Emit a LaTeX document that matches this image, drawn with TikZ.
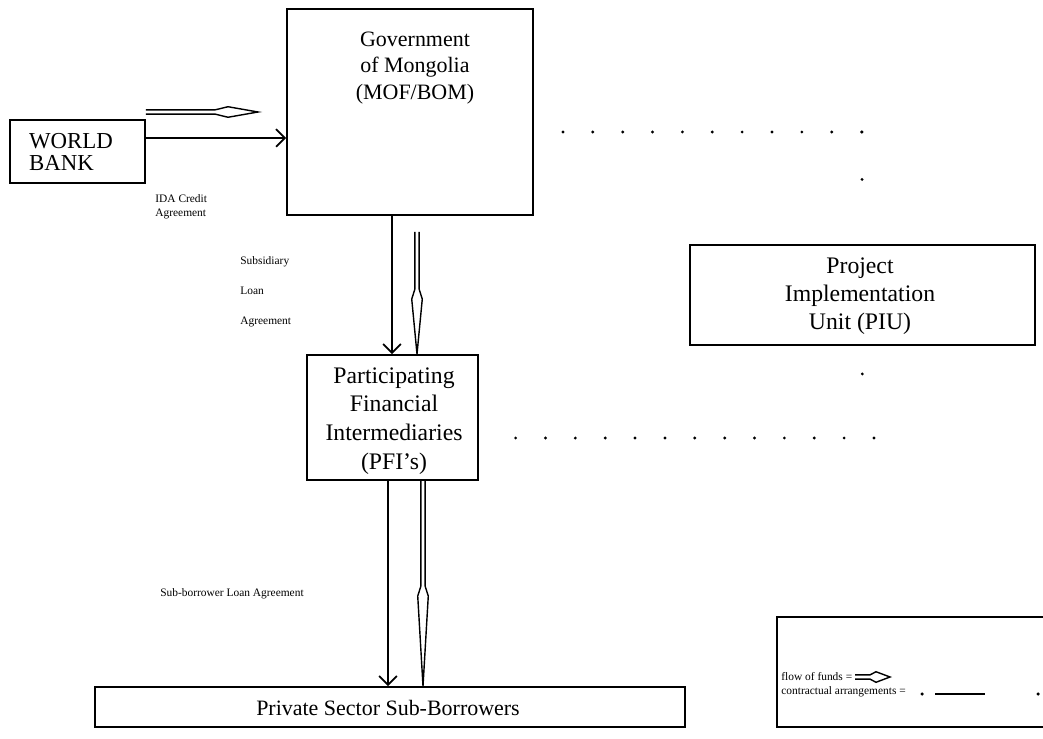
\documentclass[tikz,border=0pt]{standalone}
\usepackage{fontspec}
\setmainfont{Liberation Serif}
\usetikzlibrary{arrows.meta,calc}

\tikzset{
  box/.style={draw, line width=1.1pt, inner sep=0pt},
  boxtext/.style={align=center, font=\fontsize{13.5}{16}\selectfont, inner sep=0pt},
  small/.style={align=left, font=\fontsize{6.5}{8}\selectfont, inner sep=0pt},
  contract/.style={line width=1.1pt, -{Straight Barb[length=5pt,width=10pt,line width=1pt]}},
  fundsline/.style={line width=0.8pt, line join=miter},
  dots/.style={line width=1.8pt, line cap=round, dash pattern=on 0pt off 17pt}
}
% funds arrow: start, end, lens start and widest point (distance from end)
\newcommand{\fundsarrow}[4]{%
  \coordinate (fb) at ($(#2)!#3!(#1)$);
  \coordinate (fw) at ($(#2)!#4!(#1)$);
  \draw[fundsline] ($(#1)!1.2pt!90:(#2)$) -- ($(fb)!1.2pt!90:(#2)$) -- ($(fw)!3pt!90:(#2)$) -- (#2)
    -- ($(fw)!3pt!-90:(#2)$) -- ($(fb)!1.2pt!-90:(#2)$) -- ($(#1)!1.2pt!-90:(#2)$);
}

\begin{document}
\begin{tikzpicture}[x=0.02cm,y=-0.02cm]
  \useasboundingbox (0,0) rectangle (1043,739);

  \node[box, minimum width=2.7cm, minimum height=1.26cm] (wb) at (77.5,151.5) {};
  \node[boxtext, align=left, font=\fontsize{13}{12}\selectfont] (wblbl) at (71,152) {WORLD\\BANK};
  \node[box, minimum width=4.92cm, minimum height=4.12cm] (gov) at (410,112) {};
  \node[boxtext, font=\fontsize{12.5}{15.3}\selectfont] (govlbl) at (415,68) {Government\\of Mongolia\\(MOF/BOM)};
  \node[box, minimum width=3.42cm, minimum height=2.5cm] (pfi) at (392.5,417.5) {};
  \node[boxtext, font=\fontsize{13.5}{16.4}\selectfont] (pfilbl) at (394,421) {Participating\\Financial\\Intermediaries\\(PFI's)};
  \node[box, minimum width=6.9cm, minimum height=2cm] (piu) at (862.5,295) {};
  \node[boxtext] (piulbl) at (860,296) {Project\\Implementation\\Unit (PIU)};
  \node[box, minimum width=11.8cm, minimum height=0.8cm] (psb) at (390,707) {};
  \node[boxtext, font=\fontsize{12.5}{15}\selectfont] (psblbl) at (388,708) {Private Sector Sub-Borrowers};

  \draw[contract] (wb.east |- 0,138) -- (gov.west |- 0,138);
  \coordinate (fundsin) at (258,112);
  \fundsarrow{wb.east |- 0,112}{fundsin}{0.86cm}{0.6cm}
  \node[small] (ida) at (155,207) [anchor=west] {IDA Credit\\Agreement};

  \draw[contract] (392,0 |- gov.south) -- (392,0 |- pfi.north);
  \coordinate (fundsgov) at (417,232);
  \fundsarrow{fundsgov}{417,0 |- pfi.north}{1.3cm}{1.1cm}
  \node[small, font=\fontsize{6.5}{17}\selectfont] (sla) at (240,292) [anchor=west] {Subsidiary\\Loan\\Agreement};

  \draw[contract] (388,0 |- pfi.south) -- (388,0 |- psb.north);
  \fundsarrow{423,0 |- pfi.south}{423,0 |- psb.north}{2cm}{1.8cm}
  \node[small] (sbla) at (160,594) [anchor=west] {Sub-borrower Loan Agreement};

  \coordinate (gd) at (862,132);
  \draw[dots, shorten <=0.58cm] (gov.east |- gd) -- (gd);
  \draw[dots, dash pattern=on 0pt off 27pt, shorten >=1cm] (gd) -- (gd |- piu.north);
  \coordinate (pd) at (862,438);
  \draw[dots, dash pattern=on 0pt off 40pt, shorten <=0.56cm, shorten >=0.8cm] (piu.south) -- (pd);
  \draw[dots, shorten >=0.44cm] (874,438) -- (pfi.east |- pd);

  \draw[line width=1.1pt] (1043,617) -- (777,617) -- (777,727) -- (1043,727);
  \node[small] (legend) at (781,685) [anchor=west] {flow of funds =\\contractual arrangements =};
  \coordinate (lf) at (855,677);
  \fundsarrow{lf}{890,677}{0.4cm}{0.28cm}
  \coordinate (lc) at (935,694);
  \fill (922,694) circle (1pt);
  \draw[line width=0.8pt] (lc) -- (985,694);
  \fill (1038,694) circle (1pt);
\end{tikzpicture}
\end{document}
